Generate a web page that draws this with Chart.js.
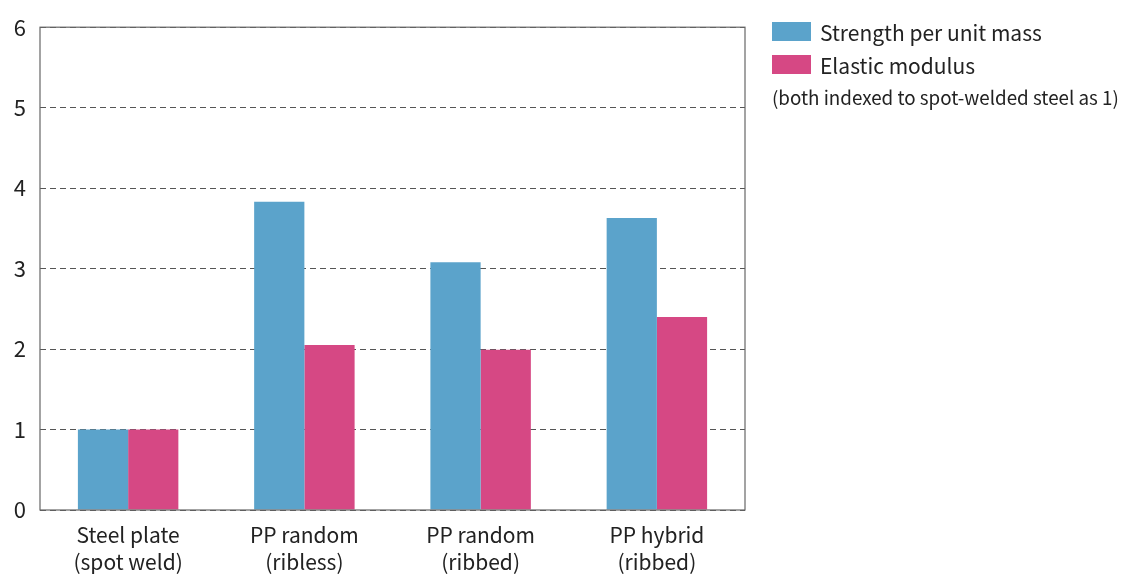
<!DOCTYPE html>
<html><head><meta charset="utf-8">
<script src="https://cdn.jsdelivr.net/npm/chart.js@4/dist/chart.umd.min.js"></script>
<style>
html,body{margin:0;padding:0;background:#fff;}
#wrap{position:relative;width:1121px;height:574px;}
#legend{position:absolute;left:772px;top:15px;font-family:"Noto Sans CJK JP","Noto Sans",sans-serif;color:#222;white-space:nowrap;}
.item{display:flex;align-items:center;height:33px;font-size:21px;}
.sw{width:39px;height:19px;margin-right:9px;}
.note{font-size:18.8px;margin-top:2px;}
</style></head>
<body><div id="wrap"><canvas id="c" width="1121" height="574"></canvas>
<div id="legend"></div></div>
<script>
const categories = [["Steel plate","(spot weld)"],["PP random","(ribless)"],["PP random","(ribbed)"],["PP hybrid","(ribbed)"]];
const strengthPerMass = [1.0, 3.83, 3.08, 3.63];
const elasticModulus = [1.0, 2.05, 1.99, 2.40];
const seriesNames = ["Strength per unit mass","Elastic modulus"];
const seriesColors = ["#5BA3CB","#D64884"];
const yTicks = [0,1,2,3,4,5,6];
const noteText = "(both indexed to spot-welded steel as 1)";

const FONT = '"Noto Sans CJK JP","Noto Sans",sans-serif';
const frame = {id:'frame', afterDraw(ch){const a=ch.chartArea,c=ch.ctx;c.save();c.strokeStyle='#666';c.lineWidth=1.2;c.setLineDash([]);c.strokeRect(a.left,a.top,a.right-a.left,a.bottom-a.top);c.restore();}};

new Chart(document.getElementById('c'),{
  type:'bar',
  data:{labels:categories,datasets:[
    {label:seriesNames[0],data:strengthPerMass,backgroundColor:seriesColors[0],borderWidth:0},
    {label:seriesNames[1],data:elasticModulus,backgroundColor:seriesColors[1],borderWidth:0}
  ]},
  options:{
    responsive:false,animation:false,
    layout:{padding:{top:22,right:376,left:0,bottom:0}},
    plugins:{legend:{display:false},tooltip:{enabled:false}},
    datasets:{bar:{barPercentage:1,categoryPercentage:0.57}},
    scales:{
      x:{grid:{display:false},border:{display:false},
        ticks:{color:'#222',font:{family:FONT,size:21,lineHeight:1.3},padding:3,maxRotation:0},
        afterFit(s){s.height=64;}},
      y:{min:0,max:6,afterBuildTicks(s){s.ticks=yTicks.map(v=>({value:v}));},
        grid:{color:'#555',lineWidth:1,drawTicks:false},border:{display:false,dash:[6,4]},
        ticks:{color:'#222',font:{family:FONT,size:22},padding:14},
        afterFit(s){s.width=40;}}
    }
  },
  plugins:[frame]
});

const lg=document.getElementById('legend');
seriesNames.forEach((n,i)=>{const d=document.createElement('div');d.className='item';
 d.innerHTML='<span class="sw" style="background:'+seriesColors[i]+'"></span><span></span>';d.lastChild.textContent=n;lg.appendChild(d);});
const nt=document.createElement('div');nt.className='note';nt.textContent=noteText;lg.appendChild(nt);
</script></body></html>
